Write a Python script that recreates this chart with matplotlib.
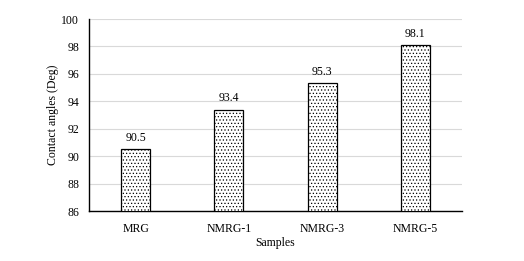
import matplotlib.pyplot as plt

samples = ["MRG", "NMRG-1", "NMRG-3", "NMRG-5"]
angles = [90.5, 93.4, 95.3, 98.1]
yticks = [86, 88, 90, 92, 94, 96, 98, 100]

plt.rcParams["font.family"] = ["Liberation Serif", "DejaVu Serif"]
plt.rcParams["hatch.linewidth"] = 0.5

fig = plt.figure(figsize=(5.24, 2.61), dpi=100)
ax = fig.add_axes([89 / 524, 1 - 211 / 261, 373 / 524, 192 / 261])

x = range(len(samples))
bars = ax.bar(x, angles, width=0.31, bottom=0, color="white",
              edgecolor="black", linewidth=0.9, hatch=".....", zorder=3)
for b, v in zip(bars, angles):
    ax.text(b.get_x() + b.get_width() / 2, v + 0.4, f"{v}",
            ha="center", va="bottom", fontsize=8.5)

ax.set_ylim(86, 100)
ax.set_xlim(-0.5, len(samples) - 0.5)
ax.set_yticks(yticks)
ax.set_xticks(list(x))
ax.set_xticklabels(samples)
ax.tick_params(axis="x", length=0, labelsize=8.5, pad=9)
ax.tick_params(axis="y", length=0, labelsize=8.5, pad=7)
ax.yaxis.grid(True, color="#d9d9d9", linewidth=0.8, zorder=0)
ax.set_axisbelow(True)
for s in ["top", "right"]:
    ax.spines[s].set_visible(False)
for s in ["left", "bottom"]:
    ax.spines[s].set_linewidth(1.0)
ax.set_xlabel("Samples", fontsize=8.5, labelpad=1)
ax.set_ylabel("Contact angles (Deg)", fontsize=8.5, labelpad=2)

fig.savefig("out.png", dpi=100)
